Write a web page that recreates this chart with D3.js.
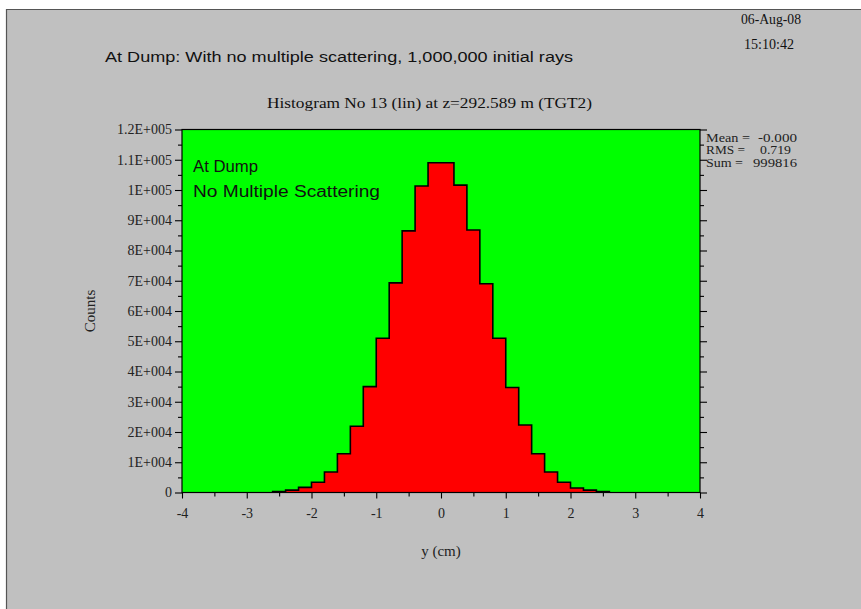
<!DOCTYPE html>
<html>
<head>
<meta charset="utf-8">
<script src="https://cdn.jsdelivr.net/npm/d3@7"></script>
<style>
  html, body { margin: 0; padding: 0; background: #ffffff; }
  svg { display: block; }
</style>
</head>
<body>
<svg id="chart" width="861" height="609"></svg>
<script>
// Histogram bins: left edges (cm) and counts per 0.2 cm bin
const binWidth = 0.2;
const binLeft = [
  -4.0, -3.8, -3.6, -3.4, -3.2, -3.0, -2.8, -2.6, -2.4, -2.2,
  -2.0, -1.8, -1.6, -1.4, -1.2, -1.0, -0.8, -0.6, -0.4, -0.2,
   0.0,  0.2,  0.4,  0.6,  0.8,  1.0,  1.2,  1.4,  1.6,  1.8,
   2.0,  2.2,  2.4,  2.6,  2.8,  3.0,  3.2,  3.4,  3.6,  3.8
];
const counts = [
  0, 0, 0, 0, 0, 0, 0, 350, 800, 1700,
  3400, 6800, 12800, 21900, 35000, 51000, 69300, 86500, 101300, 109000,
  109000, 101600, 86800, 69000, 51000, 34700, 22300, 12800, 6800, 3400,
  1500, 800, 350, 0, 0, 0, 0, 0, 0, 0
];

// Axis ticks and labels
const xTicks = [-4, -3, -2, -1, 0, 1, 2, 3, 4];
const xTickLabels = ["-4", "-3", "-2", "-1", "0", "1", "2", "3", "4"];
const xMinorTicks = [-3.5, -2.5, -1.5, -0.5, 0.5, 1.5, 2.5, 3.5];
const yTicks = [0, 10000, 20000, 30000, 40000, 50000, 60000, 70000, 80000, 90000, 100000, 110000, 120000];
const yTickLabels = ["0", "1E+004", "2E+004", "3E+004", "4E+004", "5E+004", "6E+004",
                     "7E+004", "8E+004", "9E+004", "1E+005", "1.1E+005", "1.2E+005"];
const yMinorTicks = [5000, 15000, 25000, 35000, 45000, 55000, 65000, 75000, 85000, 95000, 105000, 115000];

// Statistics box
const statNames = ["Mean =", "RMS =", "Sum ="];
const statValues = ["-0.000", "0.719", "999816"];

const svg = d3.select("#chart");
const serif = "'Liberation Serif', 'Times New Roman', serif";
const sans = "'Liberation Sans', Arial, sans-serif";

// Panel background
svg.append("rect").attr("x", 6).attr("y", 9).attr("width", 861 - 6).attr("height", 609 - 9)
  .attr("fill", "#c0c0c0");
svg.append("path").attr("d", "M6.5,609 V9.5 H861")
  .attr("fill", "none").attr("stroke", "#555").attr("stroke-width", 1.2);

// Plot area
const plot = { left: 182, right: 700, top: 129.5, bottom: 492.5 };
const x = d3.scaleLinear().domain([-4, 4]).range([plot.left, plot.right]);
const y = d3.scaleLinear().domain([0, 120000]).range([plot.bottom, plot.top]);

svg.append("rect")
  .attr("x", plot.left).attr("y", plot.top)
  .attr("width", plot.right - plot.left).attr("height", plot.bottom - plot.top)
  .attr("fill", "#00ff00");

// Histogram as a filled step shape
const bins = binLeft.map((b, i) => ({ x0: b, x1: b + binWidth, n: counts[i] }));
const filled = bins.filter(d => d.n > 0);
const stepPts = [];
filled.forEach(d => { stepPts.push([x(d.x0), y(d.n)]); stepPts.push([x(d.x1), y(d.n)]); });
const first = filled[0], last = filled[filled.length - 1];
const areaPts = [[x(first.x0), y(0)], ...stepPts, [x(last.x1), y(0)]];

svg.append("path")
  .attr("d", d3.line()(areaPts) + "Z")
  .attr("fill", "#ff0000").attr("stroke", "none");
svg.append("path")
  .attr("d", d3.line()(areaPts))
  .attr("fill", "none").attr("stroke", "#000").attr("stroke-width", 1.6)
  .attr("stroke-linejoin", "miter");

// Plot frame
svg.append("rect")
  .attr("x", plot.left).attr("y", plot.top)
  .attr("width", plot.right - plot.left).attr("height", plot.bottom - plot.top)
  .attr("fill", "none").attr("stroke", "#000").attr("stroke-width", 1.2);

function styleAxis(g) {
  g.select(".domain").remove();
  g.selectAll(".tick line").attr("stroke", "#000").attr("stroke-width", 1.1);
  g.selectAll(".tick text").attr("fill", "#222").attr("font-family", serif).attr("font-size", 14);
}

// Left axis with labels
svg.append("g").attr("transform", `translate(${plot.left},0)`)
  .call(d3.axisLeft(y).tickValues(yTicks).tickSize(7).tickPadding(3)
    .tickFormat((d, i) => yTickLabels[i]))
  .call(styleAxis);
svg.append("g").attr("transform", `translate(${plot.left},0)`)
  .call(d3.axisLeft(y).tickValues(yMinorTicks).tickSize(4).tickFormat(""))
  .call(styleAxis);

// Right axis, ticks only
svg.append("g").attr("transform", `translate(${plot.right},0)`)
  .call(d3.axisRight(y).tickValues(yTicks).tickSize(7).tickFormat(""))
  .call(styleAxis);
svg.append("g").attr("transform", `translate(${plot.right},0)`)
  .call(d3.axisRight(y).tickValues(yMinorTicks).tickSize(4).tickFormat(""))
  .call(styleAxis);

// Bottom axis
svg.append("g").attr("transform", `translate(0,${plot.bottom})`)
  .call(d3.axisBottom(x).tickValues(xTicks).tickSize(6).tickPadding(10)
    .tickFormat((d, i) => xTickLabels[i]))
  .call(styleAxis);
svg.append("g").attr("transform", `translate(0,${plot.bottom})`)
  .call(d3.axisBottom(x).tickValues(xMinorTicks).tickSize(4).tickFormat(""))
  .call(styleAxis);

// Text helper: place text, optionally stretched to a given width
function label(txt, px, py, font, size, width, anchor) {
  const t = svg.append("text")
    .attr("x", px).attr("y", py)
    .attr("font-family", font).attr("font-size", size)
    .attr("fill", "#111")
    .attr("text-anchor", anchor || "start")
    .text(txt);
  if (width) t.attr("textLength", width).attr("lengthAdjust", "spacingAndGlyphs");
  return t;
}

// Axis titles
label("y (cm)", x(0), 556, serif, 15, null, "middle").attr("fill", "#222");
svg.append("text")
  .attr("transform", `translate(95,${(plot.top + plot.bottom) / 2}) rotate(-90)`)
  .attr("text-anchor", "middle")
  .attr("font-family", serif).attr("font-size", 15).attr("fill", "#222")
  .text("Counts");

// Headings
label("At Dump: With no multiple scattering, 1,000,000 initial rays", 105, 62, sans, 15.5, 468);
label("Histogram No 13 (lin) at z=292.589 m (TGT2)", 267, 108, serif, 14, 325);
label("06-Aug-08", 741, 24, serif, 14, 60);
label("15:10:42", 744, 49, serif, 14, 50);

// In-plot annotation
label("At Dump", 193, 172, sans, 16, 65);
label("No Multiple Scattering", 193, 197, sans, 16, 187);

// Statistics block: name and value on each line
const statNameWidth = [44, 39, 37];
const statValueStart = [758, 760, 753];
const statValueWidth = [39, 31, 44];
statNames.forEach((s, i) => {
  const yy = 142 + i * 12.3;
  label(s, 706, yy, serif, 12.5, statNameWidth[i]).attr("fill", "#222");
  label(statValues[i], statValueStart[i], yy, serif, 12.5, statValueWidth[i]).attr("fill", "#222");
});
</script>
</body>
</html>
